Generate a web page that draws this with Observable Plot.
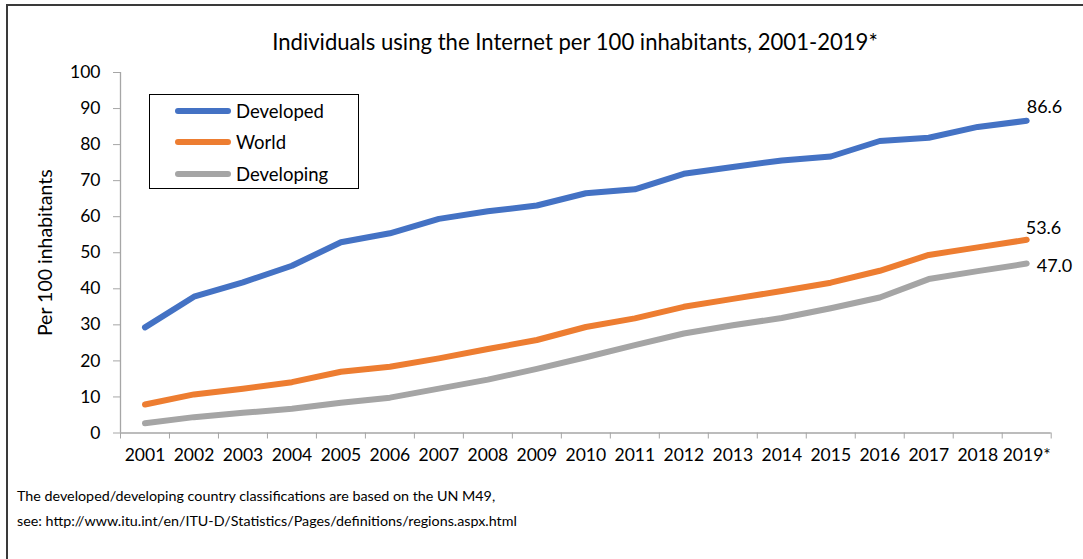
<!DOCTYPE html>
<html>
<head>
<meta charset="utf-8">
<script src="https://cdn.jsdelivr.net/npm/d3@7"></script>
<script src="https://cdn.jsdelivr.net/npm/@observablehq/plot@0.6"></script>
<style>
  html, body { margin: 0; padding: 0; background: #fff; }
  #wrap { position: relative; width: 1083px; height: 559px; overflow: hidden; font-family: Lato, "Open Sans", sans-serif; color: #000; }
  #border { position: absolute; left: 6px; top: 4px; width: 1200px; height: 700px; border-left: 2px solid #3a3a3a; border-top: 2px solid #3a3a3a; }
  #title { position: absolute; left: 0; width: 1150px; top: 30px; text-align: center; font-size: 22.1px; line-height: 24px; }
  #chart { position: absolute; left: 0; top: 60px; }
  #legend { position: absolute; left: 149px; top: 94px; width: 208px; height: 93px; border: 1.5px solid #000; }
  .sw { position: absolute; left: 25px; width: 56px; height: 6px; border-radius: 3px; }
  .lab { position: absolute; left: 86px; font-size: 18.5px; white-space: nowrap; line-height: 24px; }
  #note { position: absolute; left: 17px; top: 483px; font-size: 14.3px; line-height: 25px; }
</style>
</head>
<body>
<div id="wrap">
  <div id="border"></div>
  <div id="title"></div>
  <div id="chart"></div>
  <div id="legend"></div>
  <div id="note"></div>
</div>
<script>
// ---- data ----
const years = [2001, 2002, 2003, 2004, 2005, 2006, 2007, 2008, 2009, 2010, 2011, 2012, 2013, 2014, 2015, 2016, 2017, 2018, 2019];
const tickLabels = ["2001", "2002", "2003", "2004", "2005", "2006", "2007", "2008", "2009", "2010", "2011", "2012", "2013", "2014", "2015", "2016", "2017", "2018", "2019*"];
const seriesNames = ["Developed", "World", "Developing"];
const developed = [29.3, 37.8, 41.8, 46.4, 52.9, 55.4, 59.4, 61.5, 63.1, 66.5, 67.6, 71.9, 73.8, 75.6, 76.7, 81.0, 81.9, 84.9, 86.6];
const world = [7.9, 10.7, 12.3, 14.1, 17.0, 18.4, 20.7, 23.3, 25.8, 29.4, 31.8, 35.0, 37.2, 39.4, 41.7, 45.0, 49.4, 51.5, 53.6];
const developing = [2.7, 4.4, 5.6, 6.7, 8.4, 9.8, 12.3, 14.8, 17.8, 21.0, 24.4, 27.6, 29.9, 31.9, 34.6, 37.6, 42.7, 44.9, 47.0];
const yTicks = [0, 10, 20, 30, 40, 50, 60, 70, 80, 90, 100];
const titleText = "Individuals using the Internet per 100 inhabitants, 2001-2019*";
const yLabel = "Per 100 inhabitants";
const noteLines = [
  "The developed/developing country classifications are based on the UN M49,",
  "see: http://www.itu.int/en/ITU-D/Statistics/Pages/definitions/regions.aspx.html"
];

// ---- styles ----
const colors = ["#4472C4", "#ED7D31", "#A5A5A5"];
const axisGrey = "#A6A6A6";
const endLabelOffset = { Developed: [0, -14], World: [-1, -12], Developing: [10, 3] };

const valuesBySeries = [developed, world, developing];
const rows = seriesNames.flatMap((s, k) => years.map((y, i) => ({ series: s, year: y, value: valuesBySeries[k][i] })));
const lastRows = seriesNames.map((s, k) => ({ series: s, year: years[years.length - 1], value: valuesBySeries[k][years.length - 1] }));
const boundaries = [...years.map(y => y - 0.5), years[years.length - 1] + 0.5];

const chart = Plot.plot({
  width: 1083,
  height: 430,
  marginLeft: 120,
  marginRight: 32.3,
  marginTop: 12,
  marginBottom: 57.5,
  style: { fontFamily: "Lato, 'Open Sans', sans-serif", fontSize: "17.5px", color: "#000", background: "transparent", overflow: "visible" },
  x: { domain: [years[0] - 0.5, years[years.length - 1] + 0.5], axis: null },
  y: { domain: [yTicks[0], yTicks[yTicks.length - 1]], axis: null },
  color: { domain: seriesNames, range: colors },
  marks: [
    Plot.ruleY([0], { stroke: axisGrey, strokeWidth: 1.3 }),
    Plot.ruleX([years[0] - 0.5], { stroke: axisGrey, strokeWidth: 1.3 }),
    Plot.axisY(yTicks, { anchor: "left", tickSize: 7, tickPadding: 13, stroke: axisGrey, fill: "#000", label: null, fontSize: 17.5 }),
    Plot.axisX(boundaries, { anchor: "bottom", tickSize: 6, tickFormat: () => "", stroke: axisGrey, label: null }),
    Plot.axisX(years, { anchor: "bottom", tickSize: 0, tickPadding: 15.5, tickFormat: d => tickLabels[years.indexOf(d)], fill: "#000", label: null, fontSize: 17.5 }),
    Plot.text([yLabel], { frameAnchor: "left", textAnchor: "middle", dx: -75, rotate: -90, fontSize: 19.5, fill: "#000" }),
    Plot.line(rows, { x: "year", y: "value", z: "series", stroke: "series", strokeWidth: 6, strokeLinecap: "round", strokeLinejoin: "round" }),
    ...lastRows.map(r => Plot.text([r], {
      x: "year", y: "value", text: d => d.value.toFixed(1),
      textAnchor: "start", lineAnchor: "middle",
      dx: endLabelOffset[r.series][0], dy: endLabelOffset[r.series][1],
      fontSize: 18, fill: "#000"
    }))
  ]
});
document.getElementById("chart").appendChild(chart);

document.getElementById("title").textContent = titleText;

const legend = document.getElementById("legend");
const rowTops = [4, 35, 67];
seriesNames.forEach((s, k) => {
  const sw = document.createElement("div");
  sw.className = "sw";
  sw.style.background = colors[k];
  sw.style.top = (rowTops[k] + 9) + "px";
  legend.appendChild(sw);
  const lab = document.createElement("div");
  lab.className = "lab";
  lab.style.top = rowTops[k] + "px";
  lab.textContent = s;
  legend.appendChild(lab);
});

const note = document.getElementById("note");
noteLines.forEach(t => { const d = document.createElement("div"); d.textContent = t; note.appendChild(d); });
</script>
</body>
</html>
